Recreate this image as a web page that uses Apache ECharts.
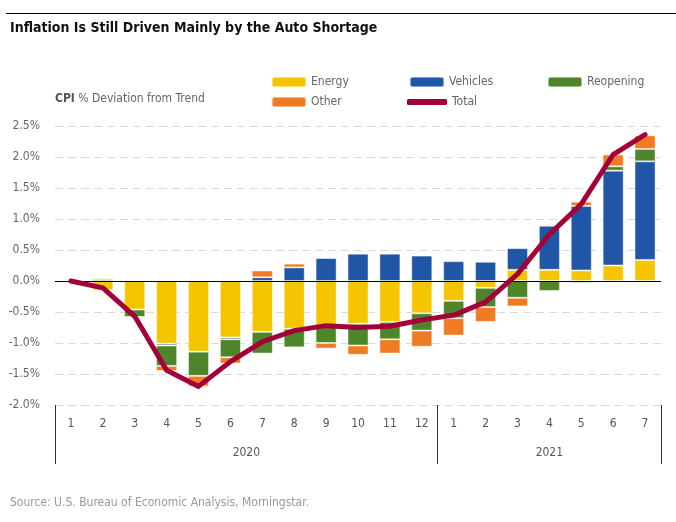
<!DOCTYPE html>
<html>
<head>
<meta charset="utf-8">
<script src="https://cdn.jsdelivr.net/npm/echarts@6/dist/echarts.min.js"></script>
<style>html,body{margin:0;padding:0;background:#fff}#c{width:676px;height:522px}</style>
</head>
<body>
<div id="c"></div>
<script>
const months = ['1','2','3','4','5','6','7','8','9','10','11','12','1','2','3','4','5','6','7'];
const years = ['2020', '2021'];
const yTicks = { min: -2.0, max: 2.5, step: 0.5 };
const energy    = [null,-0.15,-0.46,-1.01,-1.14,-0.91,-0.82,-0.77,-0.73,-0.69,-0.66,-0.52,-0.32,-0.11,0.18,0.18,0.17,0.25,0.34];
const vehicles  = [null,0,0,-0.03,0,-0.03,0.06,0.22,0.37,0.44,0.44,0.41,0.32,0.31,0.35,0.71,1.04,1.53,1.59];
const reopening = [null,0.03,-0.12,-0.33,-0.39,-0.29,-0.35,-0.30,-0.27,-0.35,-0.28,-0.28,-0.28,-0.31,-0.27,-0.16,-0.03,0.07,0.20];
const other     = [null,0.02,-0.02,-0.08,-0.17,-0.10,0.11,0.06,-0.09,-0.15,-0.23,-0.26,-0.28,-0.24,-0.14,0.02,0.07,0.19,0.22];
const total     = [0,-0.11,-0.57,-1.44,-1.70,-1.30,-0.98,-0.80,-0.72,-0.75,-0.73,-0.63,-0.55,-0.34,0.11,0.75,1.24,2.04,2.36];

const FONT = "'DejaVu Sans Condensed', 'DejaVu Sans', sans-serif";
const C = { energy:'#F4C500', vehicles:'#1F56A5', reopening:'#4E852A', other:'#F07B23', total:'#A3003A' };

const chart = echarts.init(document.getElementById('c'), null, {renderer:'canvas'});
function bar(name, data, color) {
  return { name, type:'bar', stack:'s', data, barWidth:'66%',
    itemStyle:{ color, borderColor:'rgba(255,255,255,0.45)', borderWidth:1 }, z:2 };
}
function leg(name, left, top, extra) {
  return Object.assign({ data:[name], left, top, padding:0, itemWidth:34, itemHeight:10, selectedMode:false,
    textStyle:{ color:'#666', fontSize:12, fontFamily:FONT } }, extra||{});
}
const yearCenters = [6, 15.5];
chart.setOption({
  animation:false,
  textStyle:{ fontFamily:FONT },
  graphic:[
    { type:'line', silent:true, shape:{ x1:6, y1:13.5, x2:676, y2:13.5 }, style:{ stroke:'#000', lineWidth:1.2 } }
  ],
  title:[
    { text:'Inflation Is Still Driven Mainly by the Auto Shortage', left:10, top:21, padding:0,
      textStyle:{ fontSize:14, fontWeight:'bold', color:'#111', fontFamily:FONT } },
    { text:'{b|CPI} % Deviation from Trend', left:55, top:93, padding:0,
      textStyle:{ fontSize:12, color:'#666', fontWeight:'normal', fontFamily:FONT,
        rich:{ b:{ fontWeight:'bold', color:'#555', fontSize:12, fontFamily:FONT } } } },
    { text:'Source: U.S. Bureau of Economic Analysis, Morningstar.', left:10, top:497, padding:0,
      textStyle:{ fontSize:12, color:'#999', fontWeight:'normal', fontFamily:FONT } }
  ],
  legend:[
    leg('Energy', 271, 76),
    leg('Vehicles', 409, 76),
    leg('Reopening', 547, 76),
    leg('Other', 271, 96),
    leg('Total', 407, 96, { icon:'roundRect', itemWidth:40, itemHeight:6 })
  ],
  grid:{ left:55, right:15, top:126, bottom:117 },
  xAxis:[
    { type:'category', data:months, axisLine:{show:false}, axisTick:{show:false},
      axisLabel:{ color:'#555', fontSize:12, margin:13, fontFamily:FONT }, splitLine:{show:false} },
    { type:'value', min:0, max:months.length, position:'bottom', axisLine:{show:false},
      splitLine:{show:false},
      axisTick:{ show:true, customValues:[0, 12, months.length], length:59, lineStyle:{ color:'#333', width:1 } },
      axisLabel:{ customValues:yearCenters, margin:42, color:'#555', fontSize:12, fontFamily:FONT,
        formatter:(v)=> v < 12 ? years[0] : years[1] } }
  ],
  yAxis:{ type:'value', min:yTicks.min, max:yTicks.max, interval:yTicks.step,
    axisLine:{show:false}, axisTick:{show:false},
    axisLabel:{ color:'#666', fontSize:12, margin:15, fontFamily:FONT, formatter:(v)=>v.toFixed(1)+'%' },
    splitLine:{ lineStyle:{ color:'#d9d9d9', type:[8,5], width:1 } } },
  series:[
    bar('Energy', energy, C.energy),
    bar('Vehicles', vehicles, C.vehicles),
    bar('Reopening', reopening, C.reopening),
    bar('Other', other, C.other),
    { name:'Total', type:'line', data:total, symbol:'none', showSymbol:false, z:5,
      lineStyle:{ color:C.total, width:5, cap:'round', join:'round' }, itemStyle:{ color:C.total },
      markLine:{ silent:true, symbol:'none', label:{show:false}, animation:false, z:3,
        lineStyle:{ color:'#000', width:1, type:'solid' }, data:[{ yAxis:0 }] } }
  ]
});
</script>
</body>
</html>
